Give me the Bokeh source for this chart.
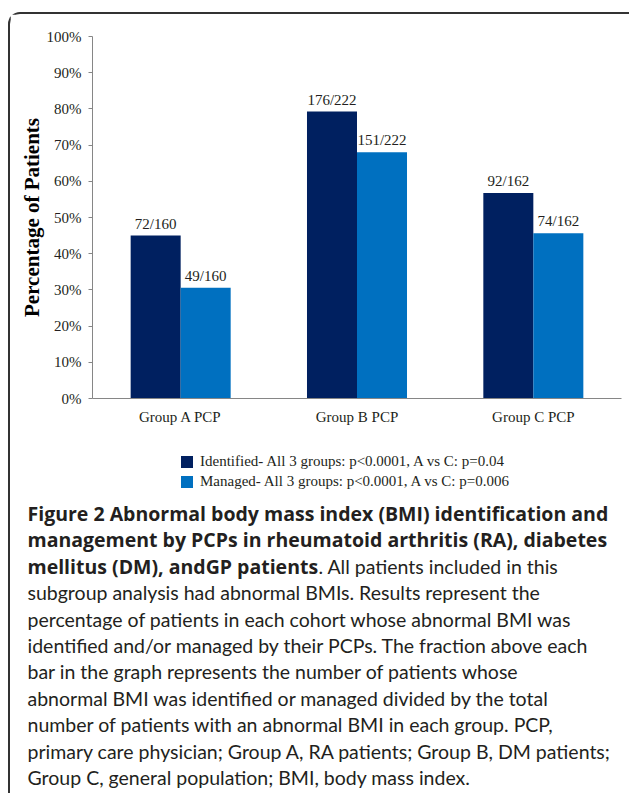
from bokeh.plotting import figure
from bokeh.layouts import column
from bokeh.models import (ColumnDataSource, FactorRange, Range1d, NumeralTickFormatter,
                          SingleIntervalTicker, LabelSet, Legend, LegendItem)
from bokeh.transform import dodge
from bokeh.core.properties import value
from bokeh.embed import file_html
from bokeh.resources import INLINE

# ---------------- data ----------------
groups = ["Group A PCP", "Group B PCP", "Group C PCP"]
identified_n = [72, 176, 92]
managed_n = [49, 151, 74]
totals = [160, 222, 162]
series_names = [
    "Identified- All 3 groups: p<0.0001, A vs C: p=0.04",
    "Managed- All 3 groups: p<0.0001, A vs C: p=0.006",
]
y_title = "Percentage of Patients"
caption_bold = [
    "Figure 2 Abnormal body mass index (BMI) identification and",
    "management by PCPs in rheumatoid arthritis (RA), diabetes",
    "mellitus (DM), andGP patients",
]
caption_rest_line3 = ". All patients included in this"
caption_regular = [
    "subgroup analysis had abnormal BMIs. Results represent the",
    "percentage of patients in each cohort whose abnormal BMI was",
    "identified and/or managed by their PCPs. The fraction above each",
    "bar in the graph represents the number of patients whose",
    "abnormal BMI was identified or managed divided by the total",
    "number of patients with an abnormal BMI in each group. PCP,",
    "primary care physician; Group A, RA patients; Group B, DM patients;",
    "Group C, general population; BMI, body mass index.",
]

# ---------------- styles ----------------
DARK = "#002060"
BLUE = "#0070C0"
AXIS = "#868686"
TXT = "#231f20"
SERIF = "Liberation Serif"
SANS_B = "Open Sans"
SANS_R = "Lato"

W = 619          # inner width (inside the rounded border)
HA = 426         # chart figure height
HB = 353         # legend + caption figure height

src = ColumnDataSource(dict(
    group=groups,
    ident=[n / t for n, t in zip(identified_n, totals)],
    manag=[n / t for n, t in zip(managed_n, totals)],
    ident_lbl=[f"{n}/{t}" for n, t in zip(identified_n, totals)],
    manag_lbl=[f"{n}/{t}" for n, t in zip(managed_n, totals)],
))

# ---------------- chart ----------------
p = figure(width=W, height=HA, x_range=FactorRange(*groups, range_padding=0),
           y_range=Range1d(0, 1), output_backend="svg", toolbar_location=None, tools="",
           min_border_left=82, min_border_right=8, min_border_top=22, min_border_bottom=42)
p.frame_align = False
p.outline_line_color = None
p.xgrid.visible = False
p.ygrid.visible = False

BW = 0.2836
r1 = p.vbar(x=dodge("group", -BW / 2, range=p.x_range), top="ident", width=BW, source=src,
            fill_color=DARK, line_color=None)
r2 = p.vbar(x=dodge("group", BW / 2, range=p.x_range), top="manag", width=BW, source=src,
            fill_color=BLUE, line_color=None)

for col, lbl, off in (("ident", "ident_lbl", -BW / 2), ("manag", "manag_lbl", BW / 2)):
    p.add_layout(LabelSet(x=dodge("group", off, range=p.x_range), y=col, text=lbl, source=src,
                          y_offset=12, text_align="center", text_baseline="middle",
                          text_font=value(SERIF), text_font_size=value("15px"),
                          text_color=value(TXT)))

ya = p.yaxis[0]
ya.ticker = SingleIntervalTicker(interval=0.1)
ya.formatter = NumeralTickFormatter(format="0%")
ya.minor_tick_line_color = None
ya.major_tick_in = 0
ya.major_tick_out = 4
ya.major_label_standoff = 7
ya.axis_line_color = AXIS
ya.major_tick_line_color = AXIS
ya.major_label_text_font = SERIF
ya.major_label_text_font_size = "15px"
ya.major_label_text_color = TXT
ya.axis_label = y_title
ya.axis_label_text_font = SERIF
ya.axis_label_text_font_style = "bold"
ya.axis_label_text_font_size = "21px"
ya.axis_label_text_color = "black"
ya.axis_label_standoff = 0

xa = p.xaxis[0]
xa.axis_line_color = AXIS
xa.major_tick_line_color = None
xa.minor_tick_line_color = None
xa.major_tick_out = 0
xa.major_tick_in = 0
xa.major_label_standoff = 10
xa.major_label_text_font = SERIF
xa.major_label_text_font_size = "15px"
xa.major_label_text_color = TXT

# ---------------- legend + caption (pixel-like coordinates, y downwards) ----------------
q = figure(width=W, height=HB, x_range=Range1d(0, W), y_range=Range1d(HB, 0),
           output_backend="svg", toolbar_location=None, tools="",
           x_axis_location=None, y_axis_location=None,
           min_border_left=0, min_border_right=0, min_border_top=0, min_border_bottom=0)
q.frame_align = False
q.outline_line_color = None
q.xgrid.visible = False
q.ygrid.visible = False

# hidden twins of the two bar series, used only for the legend swatches
l1 = q.vbar(x="ident", top="ident", width=BW, source=src, fill_color=DARK, line_color=None,
            visible=False)
l2 = q.vbar(x="manag", top="manag", width=BW, source=src, fill_color=BLUE, line_color=None,
            visible=False)
legend = Legend(items=[LegendItem(label=series_names[0], renderers=[l1], index=0),
                       LegendItem(label=series_names[1], renderers=[l2], index=0)],
                location=(169, HB - 51), orientation="vertical",
                padding=0, margin=0, spacing=0, glyph_width=15, glyph_height=15,
                label_height=20, label_standoff=6, label_text_font=SERIF,
                label_text_font_size="15px", label_text_color=TXT,
                background_fill_alpha=0, border_line_alpha=0,
                inactive_fill_alpha=0, click_policy="none")
q.add_layout(legend, "center")

X0 = 17          # caption left edge
LINE0 = 73       # centre of the first caption line
STEP = 26.4
BOLD_SIZE, REG_SIZE = "19.5px", "19.5px"
cx, cy, ct, cs, cf, cz = [], [], [], [], [], []
for i, t in enumerate(caption_bold):
    cx.append(X0); cy.append(LINE0 + i * STEP); ct.append(t)
    cs.append("bold"); cf.append(SANS_B); cz.append(BOLD_SIZE)
cx.append(308); cy.append(LINE0 + 2 * STEP); ct.append(caption_rest_line3)
cs.append("normal"); cf.append(SANS_R); cz.append(REG_SIZE)
for j, t in enumerate(caption_regular):
    cx.append(X0); cy.append(LINE0 + (j + 3) * STEP); ct.append(t)
    cs.append("normal"); cf.append(SANS_R); cz.append(REG_SIZE)
cap = ColumnDataSource(dict(x=cx, y=cy, text=ct, style=cs, font=cf, size=cz))
q.text(x="x", y="y", text="text", source=cap, text_font="font",
       text_font_style="style", text_font_size="size", text_color=TXT,
       text_baseline="middle", text_align="left")

root = column(p, q, spacing=0, margin=(12, 0, 0, 8),
              styles={"border-left": "2px solid #333333", "border-top": "2px solid #333333",
                      "border-top-left-radius": "12px"})

open("out.html", "w").write(file_html(root, INLINE))
